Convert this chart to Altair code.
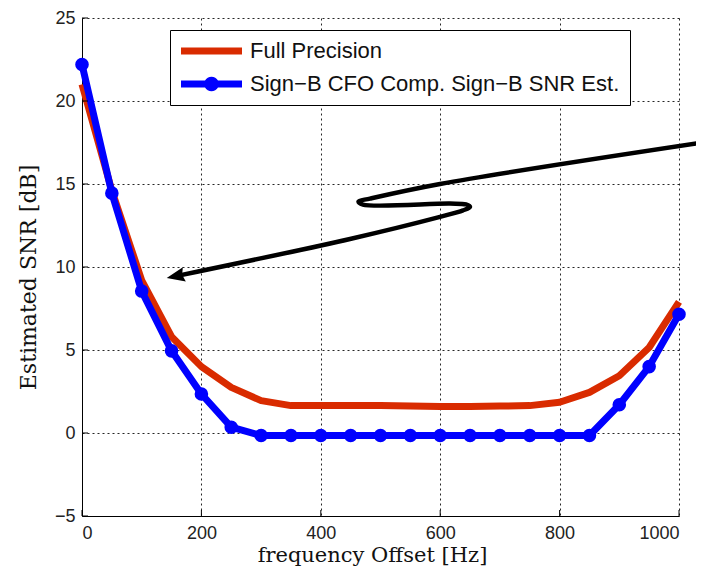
import altair as alt
import pandas as pd

# ---- data ----
freq = [0, 50, 100, 150, 200, 250, 300, 350, 400, 450, 500,
        550, 600, 650, 700, 750, 800, 850, 900, 950, 1000]
full_precision = [21.0, 14.6, 9.2, 5.8, 4.0, 2.75, 1.95, 1.65, 1.65, 1.65, 1.65,
                  1.62, 1.6, 1.6, 1.62, 1.65, 1.85, 2.45, 3.45, 5.15, 7.9]
sign_b = [22.2, 14.45, 8.55, 4.95, 2.35, 0.35, -0.15, -0.15, -0.15, -0.15, -0.15,
          -0.15, -0.15, -0.15, -0.15, -0.15, -0.15, -0.15, 1.7, 4.0, 7.15]
series_names = ["Full Precision", "Sign\u2212B CFO Comp. Sign\u2212B SNR Est."]
series_colors = ["#d92b00", "#0000ff"]

x_ticks = [0, 200, 400, 600, 800, 1000]
y_ticks = [-5, 0, 5, 10, 15, 20, 25]

# annotation arrow path (data units)
arrow_x = [1042, 599.7, 482.4, 463.2, 470.7, 616.4, 643.2, 649.9, 638.2, 599.7, 448.9, 161.5]
arrow_y = [17.51, 15.0, 14.12, 13.95, 13.76, 13.82, 13.77, 13.62, 13.41, 13.02, 11.69, 9.48]
arrow_tip_x = [141.9]
arrow_tip_y = [9.33]

# ---- tables ----
df_red = pd.DataFrame({"freq": freq, "snr": full_precision})
df_blue = pd.DataFrame({"freq": freq, "snr": sign_b, "series": [series_names[1]] * len(freq)})
df_arrow = pd.DataFrame({"x": arrow_x, "y": arrow_y, "i": list(range(len(arrow_x)))})
df_tip = pd.DataFrame({"x": arrow_tip_x, "y": arrow_tip_y})
df_xt = pd.DataFrame({"t": x_ticks})
df_yt = pd.DataFrame({"t": y_ticks})

W, H = 597, 498
xscale = alt.Scale(domain=[0, 1000], nice=False, zero=False)
yscale = alt.Scale(domain=[-5, 25], nice=False, zero=False)

# legend symbol paths (unit = 10 px, symbol box 20 px, sample drawn 61 px wide)
red_path = "M-1,-0.35H5.1V0.35H-1Z"
blue_path = ("M-1,-0.35H1.4A0.75,0.75 0 0 1 2.7,-0.35H5.1V0.35"
             "H2.7A0.75,0.75 0 0 1 1.4,0.35H-1Z")

legend = alt.Legend(
    title=None, orient="none", legendX=88, legendY=12,
    labelFont="Liberation Sans", labelFontSize=22, labelColor="#111",
    labelLimit=600, labelOffset=48,
    symbolSize=400, symbolStrokeWidth=0, symbolOpacity=1,
    symbolType={"expr": f"datum.value == '{series_names[0]}' ? '{red_path}' : '{blue_path}'"},
    padding=10, rowPadding=11,
    strokeColor="black", fillColor="white", cornerRadius=0,
)

xaxis = alt.Axis(values=x_ticks, format="d", title="frequency Offset [Hz]", grid=True,
                 titleX=290, titleY=45, titleAlign="center", titleBaseline="alphabetic",
                 titleFontSize=21, labelPadding=8)
yaxis = alt.Axis(values=y_ticks, title="Estimated SNR [dB]", grid=True,
                 titleX=-54, titleY=259, titleAngle=270, titleAlign="center",
                 titleBaseline="middle", titleFontSize=22, labelPadding=7)

red_line = alt.Chart(df_red).mark_line(strokeWidth=7, strokeJoin="round",
                                       color=series_colors[0]).encode(
    x=alt.X("freq:Q", scale=xscale, axis=xaxis),
    y=alt.Y("snr:Q", scale=yscale, axis=yaxis),
)

blue_line = alt.Chart(df_blue).mark_line(strokeWidth=7, strokeJoin="round",
                                         color=series_colors[1]).encode(
    x=alt.X("freq:Q", scale=xscale),
    y=alt.Y("snr:Q", scale=yscale),
)

points = alt.Chart(df_blue).mark_circle(size=185, opacity=1).encode(
    x=alt.X("freq:Q", scale=xscale),
    y=alt.Y("snr:Q", scale=yscale),
    color=alt.Color("series:N", scale=alt.Scale(domain=series_names, range=series_colors),
                    legend=legend),
)

arrow = alt.Chart(df_arrow).mark_line(color="black", strokeWidth=4.5,
                                      interpolate="catmull-rom", strokeCap="butt").encode(
    x=alt.X("x:Q", scale=xscale),
    y=alt.Y("y:Q", scale=yscale),
    order=alt.Order("i:Q"),
)

tip = alt.Chart(df_tip).mark_point(shape="M0,0L2,-0.8L1.75,0L2,0.8Z", filled=True,
                                   color="black", size=324, angle=348, opacity=1,
                                   strokeWidth=0).encode(
    x=alt.X("x:Q", scale=xscale),
    y=alt.Y("y:Q", scale=yscale),
)

xticks = alt.Chart(df_xt).mark_rule(color="black", strokeWidth=1).encode(
    x=alt.X("t:Q", scale=xscale), y=alt.value(H), y2=alt.value(H - 6))
yticks = alt.Chart(df_yt).mark_rule(color="black", strokeWidth=1).encode(
    y=alt.Y("t:Q", scale=yscale), x=alt.value(0), x2=alt.value(6))

chart = alt.layer(red_line, blue_line, points, arrow, tip, xticks, yticks).properties(
    width=W, height=H,
    autosize=alt.AutoSizeParams(type="none"),
    padding={"left": 74, "top": 10, "right": 17, "bottom": 54},
    background="white",
).configure_view(strokeWidth=0).configure_axis(
    labelFont="Liberation Sans", labelFontSize=18, labelColor="#222",
    domainColor="black", domainWidth=1, ticks=False, tickSize=0,
    gridColor="black", gridDash=[2, 3], gridWidth=1, gridOpacity=0.85,
    titleFont="DejaVu Serif", titleFontWeight="normal", titleColor="#111",
)

chart.save("out.html", embed_options={"renderer": "svg", "actions": False})
